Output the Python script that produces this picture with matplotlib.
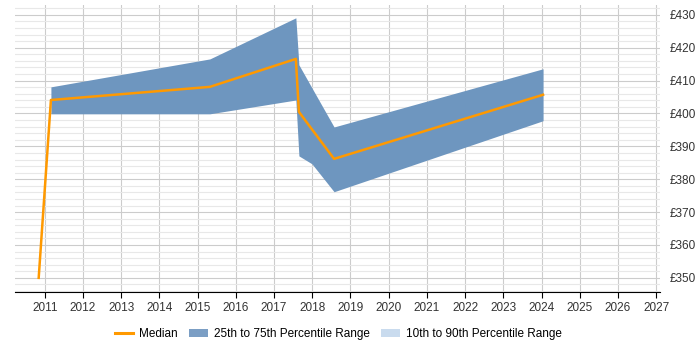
import matplotlib
matplotlib.use('Agg')
import matplotlib.pyplot as plt
from matplotlib.ticker import MultipleLocator, FuncFormatter
from matplotlib.patches import Patch
from matplotlib.lines import Line2D

plt.rcParams['font.family'] = ['Liberation Sans', 'DejaVu Sans']

# Data
years = [2010.84, 2011.16, 2015.32, 2017.57, 2017.65, 2017.99, 2018.57, 2024.04]
median = [350.0, 404.1, 408.1, 416.6, 400.5, 395.2, 386.2, 405.7]
band_years = years[1:]
p25 = [399.9, 399.9, 404.1, 387.1, 384.7, 376.2, 397.8]
p75 = [408.1, 416.6, 429.1, 414.8, 407.8, 395.9, 413.6]

fig = plt.figure(figsize=(7, 3.5), dpi=100)
ax = fig.add_axes([15/700, 58/350, 645/700, 287/350])

ax.fill_between(band_years, p25, p75, color='#6e96bf', linewidth=0, zorder=2)
ax.plot(years, median, color='#ff9900', linewidth=1.8, zorder=3)

ax.set_xlim(2010.22, 2027.1)
ax.set_ylim(345.7, 433)
ax.xaxis.set_major_locator(MultipleLocator(1))
ax.yaxis.set_major_locator(MultipleLocator(10))
ax.yaxis.set_minor_locator(MultipleLocator(2))
ax.yaxis.tick_right()
ax.yaxis.set_major_formatter(FuncFormatter(lambda v, p: '£%d' % v))

ax.grid(True, which='major', axis='both', color='#cccccc', linewidth=0.8, zorder=0)
ax.grid(True, which='minor', axis='y', color='#e8e8e8', linewidth=0.8, zorder=0)
ax.set_axisbelow(True)

for s in ['top', 'left', 'right']:
    ax.spines[s].set_visible(False)
ax.spines['bottom'].set_color('#000000')
ax.tick_params(axis='x', length=4, labelsize=8.5, colors='#000000', labelcolor='#333333', pad=3)
ax.tick_params(axis='y', which='both', length=0, labelsize=8.5, colors='#333333', pad=7)

handles = [
    Line2D([0], [0], color='#ff9900', linewidth=2.2),
    Patch(facecolor='#7b9ec4', edgecolor='none'),
    Patch(facecolor='#c9dbee', edgecolor='none'),
]
labels = ['Median', '25th to 75th Percentile Range', '10th to 90th Percentile Range']
fig.legend(handles, labels, loc='center', bbox_to_anchor=(0.483, 16/350),
           ncol=3, frameon=False, fontsize=8.5, handlelength=1.6, columnspacing=0.95,
           handletextpad=0.5)

fig.savefig('out.png', dpi=100)
